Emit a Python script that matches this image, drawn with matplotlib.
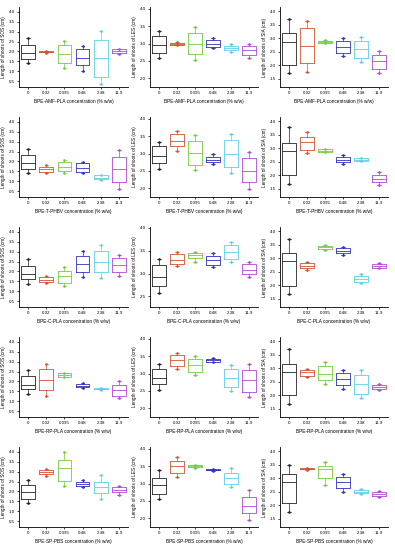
import matplotlib
matplotlib.use("Agg")
import matplotlib.pyplot as plt

plt.rcParams['font.family'] = ['Liberation Sans', 'DejaVu Sans']

categories = ["0", "0.02", "0.095", "0.48", "2.38", "11.9"]
colors = ['#222222', '#d2532e', '#72cc3a', '#2f2fbf', '#5ad0e6', '#b347d6']

treatments = ["BPE-AMF-PLA", "BPE-T-PHBV", "BPE-C-PLA", "BPE-RP-PLA", "BPE-SP-PBS"]
species = ["SOS", "LES", "SIA"]

# each box: (whisker_low, q1, median, q3, whisker_high)
sos_amf = [(1.42, 1.64, 1.90, 2.35, 2.69), (1.94, 1.95, 1.98, 2.03, 2.04), (1.14, 1.39, 1.85, 2.35, 2.54),
           (1.02, 1.31, 1.68, 2.10, 2.28), (0.35, 0.72, 1.68, 2.57, 3.02), (1.86, 1.90, 2.01, 2.10, 2.13)]
les_amf = [(2.58, 2.74, 2.96, 3.22, 3.35), (2.96, 2.97, 3.00, 3.02, 3.03), (2.54, 2.69, 2.99, 3.30, 3.47),
           (2.87, 2.91, 3.00, 3.09, 3.15), (2.77, 2.82, 2.87, 2.94, 2.99), (2.58, 2.66, 2.80, 2.93, 3.00)]
sia_amf = [(1.72, 2.02, 2.87, 3.19, 3.71), (1.77, 2.10, 2.71, 3.37, 3.64), (2.82, 2.83, 2.87, 2.91, 2.92),
           (2.35, 2.47, 2.68, 2.91, 3.00), (2.11, 2.26, 2.59, 2.88, 3.05), (1.72, 1.85, 2.15, 2.37, 2.51)]

sos_tphbv = [(1.39, 1.64, 1.91, 2.35, 2.65), (1.42, 1.49, 1.61, 1.73, 1.83), (1.42, 1.51, 1.73, 1.96, 2.05),
             (1.39, 1.49, 1.69, 1.90, 1.98), (1.04, 1.09, 1.17, 1.29, 1.32), (0.63, 0.97, 1.61, 2.23, 2.60)]
les_tphbv = [(2.56, 2.73, 2.93, 3.21, 3.32), (3.07, 3.22, 3.37, 3.55, 3.66), (2.52, 2.68, 3.02, 3.35, 3.53),
             (2.69, 2.75, 2.81, 2.91, 3.00), (2.45, 2.61, 3.00, 3.38, 3.57), (1.99, 2.17, 2.51, 2.86, 3.05)]
sia_tphbv = [(1.69, 2.01, 2.88, 3.20, 3.77), (2.83, 2.94, 3.21, 3.43, 3.60), (2.85, 2.86, 2.91, 2.97, 2.98),
             (2.42, 2.48, 2.57, 2.67, 2.74), (2.51, 2.52, 2.57, 2.63, 2.64), (1.63, 1.76, 1.88, 2.02, 2.14)]

sos_cpla = [(1.38, 1.64, 1.85, 2.28, 2.65), (1.39, 1.46, 1.59, 1.72, 1.79), (1.24, 1.41, 1.76, 2.04, 2.20),
            (1.74, 1.95, 2.37, 2.76, 3.01), (1.66, 1.95, 2.48, 3.06, 3.34), (1.79, 1.99, 2.33, 2.66, 2.83)]
les_cpla = [(2.57, 2.74, 2.92, 3.19, 3.33), (3.17, 3.21, 3.30, 3.42, 3.47), (3.25, 3.35, 3.41, 3.46, 3.48),
            (3.14, 3.19, 3.30, 3.39, 3.45), (3.25, 3.33, 3.47, 3.62, 3.69), (2.92, 2.99, 3.09, 3.20, 3.25)]
sia_cpla = [(1.69, 1.99, 2.88, 3.18, 3.70), (2.58, 2.64, 2.72, 2.81, 2.86), (3.31, 3.33, 3.40, 3.46, 3.50),
            (3.13, 3.20, 3.28, 3.37, 3.42), (2.07, 2.13, 2.23, 2.34, 2.43), (2.62, 2.64, 2.72, 2.78, 2.81)]

sos_rppla = [(1.37, 1.63, 1.83, 2.27, 2.60), (1.28, 1.57, 2.07, 2.62, 2.90), (2.22, 2.25, 2.33, 2.42, 2.45),
             (1.65, 1.70, 1.77, 1.87, 1.92), (1.59, 1.60, 1.63, 1.67, 1.68), (1.15, 1.27, 1.58, 1.83, 2.00)]
les_rppla = [(2.52, 2.69, 2.87, 3.13, 3.26), (3.14, 3.22, 3.38, 3.53, 3.60), (2.95, 3.04, 3.24, 3.42, 3.50),
             (3.32, 3.34, 3.39, 3.42, 3.44), (2.51, 2.61, 2.86, 3.12, 3.25), (2.32, 2.48, 2.80, 3.11, 3.28)]
sia_rppla = [(1.69, 2.01, 2.85, 3.16, 3.69), (2.66, 2.73, 2.85, 2.94, 2.97), (2.42, 2.55, 2.80, 3.07, 3.22),
             (2.25, 2.39, 2.60, 2.82, 2.95), (1.91, 2.06, 2.43, 2.76, 2.95), (2.21, 2.24, 2.32, 2.39, 2.43)]

sos_sppbs = [(1.40, 1.60, 1.95, 2.35, 2.60), (2.80, 2.90, 3.00, 3.10, 3.15), (2.30, 2.55, 3.20, 3.60, 4.00),
             (2.20, 2.30, 2.40, 2.50, 2.60), (1.60, 1.90, 2.20, 2.50, 2.85), (1.80, 1.95, 2.05, 2.20, 2.30)]
les_sppbs = [(2.55, 2.70, 2.95, 3.15, 3.40), (3.20, 3.30, 3.50, 3.65, 3.75), (3.45, 3.47, 3.49, 3.52, 3.53),
             (3.36, 3.38, 3.40, 3.42, 3.43), (2.90, 3.00, 3.15, 3.30, 3.45), (1.95, 2.15, 2.35, 2.60, 2.80)]
sia_sppbs = [(1.75, 2.10, 2.85, 3.15, 3.50), (3.31, 3.33, 3.35, 3.37, 3.38), (2.75, 3.00, 3.35, 3.45, 3.60),
             (2.50, 2.65, 2.85, 3.05, 3.15), (2.40, 2.45, 2.50, 2.55, 2.60), (2.30, 2.35, 2.42, 2.48, 2.52)]

panels = [
    [sos_amf, les_amf, sia_amf],
    [sos_tphbv, les_tphbv, sia_tphbv],
    [sos_cpla, les_cpla, sia_cpla],
    [sos_rppla, les_rppla, sia_rppla],
    [sos_sppbs, les_sppbs, sia_sppbs],
]

ylims = {0: (0.2, 4.25), 1: (1.75, 4.05), 2: (1.2, 4.15)}
yticks = {0: [0.5, 1.0, 1.5, 2.0, 2.5, 3.0, 3.5, 4.0],
          1: [2.0, 2.5, 3.0, 3.5, 4.0],
          2: [1.5, 2.0, 2.5, 3.0, 3.5, 4.0]}

W, H = 395, 550
fig = plt.figure(figsize=(W / 100, H / 100), dpi=100)
lefts = [19, 150, 280]
widths = [109, 108, 108]

for r in range(5):
    for c in range(3):
        bottom = 1 - (87 + 110 * r) / H
        ax = fig.add_axes([lefts[c] / W, bottom, widths[c] / W, 80 / H])
        data = panels[r][c]
        pos = list(range(1, len(categories) + 1))
        for i, (lo, q1, med, q3, hi) in enumerate(data):
            st = [{'whislo': lo, 'q1': q1, 'med': med, 'q3': q3, 'whishi': hi, 'fliers': []}]
            col = colors[i]
            ax.bxp(st, positions=[pos[i]], widths=0.75, showfliers=False, patch_artist=False,
                   boxprops=dict(color=col, linewidth=0.6),
                   medianprops=dict(color=col, linewidth=0.6),
                   whiskerprops=dict(color=col, linewidth=0.5),
                   capprops=dict(color=col, linewidth=0.5), capwidths=0.18)
            ax.plot([pos[i], pos[i]], [lo, hi], linestyle='none', marker='o', ms=0.9,
                    color=col, mec=col)
        if r == 2 and c == 1:
            ax.set_ylim(2.27, 4.02)
            ax.set_yticks([2.5, 3.0, 3.5, 4.0])
        else:
            ax.set_ylim(*ylims[c])
            ax.set_yticks(yticks[c])
        ax.set_yticklabels([f"{v:.1f}" for v in ax.get_yticks()])
        ax.set_xlim(0.5, 6.5)
        ax.set_xticks(pos)
        ax.set_xticklabels(categories)
        for s in ['top', 'right']:
            ax.spines[s].set_visible(False)
        for s in ['left', 'bottom']:
            ax.spines[s].set_linewidth(0.6)
        ax.tick_params(axis='both', direction='out', length=1.5, width=0.5, labelsize=3.2, pad=1.5)
        ax.set_xlabel(f"{treatments[r]} concentration (% w/w)", fontsize=3.4, labelpad=2.5)
        ax.set_ylabel(f"Length of shoots of {species[c]} (cm)", fontsize=3.3, labelpad=2)

fig.savefig("out.png", dpi=100, facecolor='white')
